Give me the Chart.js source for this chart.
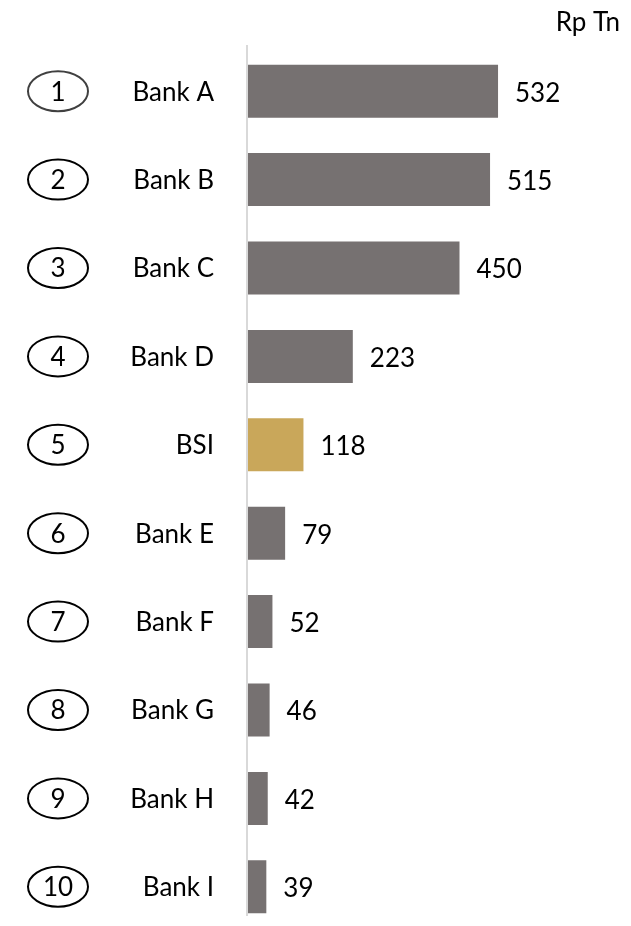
<!DOCTYPE html>
<html>
<head>
<meta charset="utf-8">
<script src="https://cdn.jsdelivr.net/npm/chart.js@4.4.0/dist/chart.umd.min.js"></script>
<style>
  html, body { margin: 0; padding: 0; background: #fff; overflow: hidden; }
  #wrap { position: relative; width: 631px; height: 940px; }
</style>
</head>
<body>
<div id="wrap"><canvas id="chart" width="631" height="940"></canvas></div>
<script>
const ranks = ['1', '2', '3', '4', '5', '6', '7', '8', '9', '10'];
const banks = ['Bank A', 'Bank B', 'Bank C', 'Bank D', 'BSI', 'Bank E', 'Bank F', 'Bank G', 'Bank H', 'Bank I'];
const assets = [532, 515, 450, 223, 118, 79, 52, 46, 42, 39];
const highlight = 'BSI';
const unitLabel = 'Rp Tn';

const GRAY = '#767171';
const GOLD = '#C9A75A';
const FONT = 'Lato, "Open Sans", sans-serif';

const sidePlugin = {
  id: 'side',
  afterDraw(chart){
    const { ctx, chartArea, scales: { y } } = chart;
    ctx.save();
    // axis line
    ctx.strokeStyle = '#d9d9d9';
    ctx.lineWidth = 2;
    ctx.beginPath();
    ctx.moveTo(chartArea.left - 1, 45);
    ctx.lineTo(chartArea.left - 1, 916);
    ctx.stroke();

    ctx.font = '26px ' + FONT;
    ctx.textBaseline = 'middle';
    ctx.fillStyle = '#000';
    ctx.textAlign = 'right';
    ctx.fillText(unitLabel, 620, 23);

    const meta = chart.getDatasetMeta(0);
    banks.forEach((b, i) => {
      const cy = y.getPixelForValue(i);
      // rank ellipse
      ctx.strokeStyle = i === 0 ? '#404040' : '#000';
      ctx.lineWidth = 2;
      ctx.beginPath();
      ctx.ellipse(58, cy, 30, 20, 0, 0, Math.PI * 2);
      ctx.stroke();
      ctx.fillStyle = '#000';
      ctx.textAlign = 'center';
      ctx.fillText(ranks[i], 58, cy + 1);
      // bank name
      ctx.textAlign = 'right';
      ctx.fillText(b, 214, cy + 1);
      // value
      ctx.textAlign = 'left';
      const bar = meta.data[i];
      ctx.fillText(String(assets[i]), bar.x + 17, cy + 2);
    });
    ctx.restore();
  }
};

new Chart(document.getElementById('chart'), {
  type: 'bar',
  data: {
    labels: banks,
    datasets: [{
      data: assets,
      backgroundColor: banks.map(b => b === highlight ? GOLD : GRAY),
      borderWidth: 0,
      barPercentage: 0.6,
      categoryPercentage: 1
    }]
  },
  options: {
    indexAxis: 'y',
    responsive: false,
    animation: false,
    layout: { padding: { left: 248, right: 7, top: 47, bottom: 9 } },
    plugins: { legend: { display: false }, tooltip: { enabled: false } },
    scales: {
      x: { display: false, min: 0, max: 800 },
      y: { display: false }
    }
  },
  plugins: [sidePlugin]
});
</script>
</body>
</html>
